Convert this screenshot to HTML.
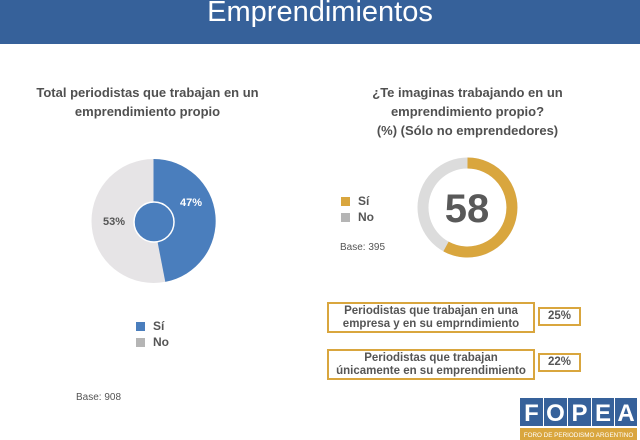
<!DOCTYPE html>
<html><head><meta charset="utf-8"><style>
body{margin:0;width:640px;height:440px;overflow:hidden;background:#fff;font-family:"Liberation Sans",sans-serif;position:relative}
.a{position:absolute}
.hdr{left:0;top:0;width:640px;height:44px;background:#36619a;color:#fff;font-size:29px;text-align:center;line-height:24px}
.t{font-weight:bold;color:#505050;font-size:13px;text-align:center;line-height:19px}
.lg{font-size:12px;color:#555;font-weight:bold}
.sq{display:inline-block;width:9px;height:9px;margin-right:8px;vertical-align:-1px}
.box{border:2px solid #d9a63e;font-weight:bold;color:#555;font-size:11.5px;text-align:center;line-height:13px;box-sizing:border-box;background:#fff}
</style></head><body>
<div class="a hdr">Emprendimientos</div>
<div class="a t" style="left:20px;top:83px;width:255px">Total periodistas que trabajan en un<br>emprendimiento propio</div>
<div class="a t" style="left:340px;top:83px;width:255px">¿Te imaginas trabajando en un<br>emprendimiento propio?<br>(%) (Sólo no emprendedores)</div>
<svg class="a" style="left:0;top:0" width="640" height="440">
<circle cx="153.5" cy="221" r="62" fill="#e6e4e6"/>
<path d="M153.5 221 L153.5 159 A62 62 0 0 1 165.3 281.9 Z" fill="#4a7ebd"/>
<circle cx="154" cy="222" r="20" fill="#4a7ebd" stroke="#fff" stroke-width="1.5"/>
<text x="191" y="206" font-family="Liberation Sans" font-weight="bold" font-size="11" fill="#fff" text-anchor="middle">47%</text>
<text x="114" y="225" font-family="Liberation Sans" font-weight="bold" font-size="11" fill="#555" text-anchor="middle">53%</text>
<circle cx="467.5" cy="207.5" r="44.5" fill="none" stroke="#dcdcdc" stroke-width="11"/>
<path d="M467.5 163 A44.5 44.5 0 1 1 446 246.5" fill="none" stroke="#d9a63e" stroke-width="11"/>
<text x="467" y="222" font-family="Liberation Sans" font-weight="bold" font-size="40" fill="#595959" text-anchor="middle">58</text>
<rect x="520" y="398" width="23" height="28" fill="#36619a"/>
<rect x="544" y="398" width="23" height="28" fill="#36619a"/>
<rect x="568" y="398" width="23" height="28" fill="#36619a"/>
<rect x="592" y="398" width="22" height="28" fill="#36619a"/>
<rect x="615" y="398" width="22" height="28" fill="#36619a"/>
<rect x="520" y="428" width="117" height="12" fill="#d9a63e"/>
<g font-family="Liberation Sans" font-weight="bold" font-size="24" fill="#fff" text-anchor="middle">
<text x="531.5" y="421">F</text><text x="555.5" y="421">O</text><text x="579.5" y="421">P</text><text x="603" y="421">E</text><text x="626" y="421">A</text></g>
<text x="578.5" y="437" font-family="Liberation Sans" font-size="6.3" fill="#fff" text-anchor="middle">FORO DE PERIODISMO ARGENTINO</text>
</svg>
<div class="a lg" style="left:136px;top:319px"><span class="sq" style="background:#4a7ebd"></span>Sí</div>
<div class="a lg" style="left:136px;top:335px"><span class="sq" style="background:#b5b5b5"></span>No</div>
<div class="a" style="left:76px;top:392px;font-size:10px;color:#555">Base: 908</div>
<div class="a lg" style="left:341px;top:194px"><span class="sq" style="background:#d9a63e"></span>Sí</div>
<div class="a lg" style="left:341px;top:210px"><span class="sq" style="background:#b5b5b5"></span>No</div>
<div class="a" style="left:340px;top:242px;font-size:10px;color:#555">Base: 395</div>
<div class="a box" style="left:327px;top:302px;width:208px;height:31px;padding-top:1px">Periodistas que trabajan en una<br>empresa y en su emprndimiento</div>
<div class="a box" style="left:538px;top:307px;width:43px;height:19px;line-height:15px">25%</div>
<div class="a box" style="left:327px;top:349px;width:208px;height:31px;padding-top:1px">Periodistas que trabajan<br>únicamente en su emprendimiento</div>
<div class="a box" style="left:538px;top:353px;width:43px;height:19px;line-height:15px">22%</div>
</body></html>
